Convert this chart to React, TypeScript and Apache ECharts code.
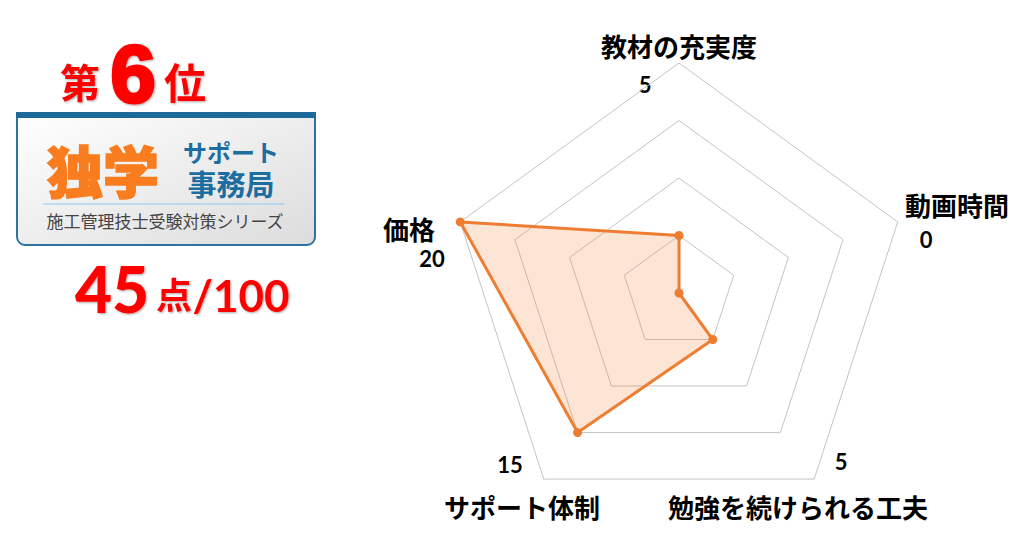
import React, { useEffect, useRef } from "react";
import * as echarts from "echarts";

// ---- data (clockwise from top) ----
const indicatorNames = ["教材の充実度", "動画時間", "勉強を続けられる工夫", "サポート体制", "価格"];
const scores = [5, 0, 5, 15, 20];
const maxScore = 20;
const rank = 6;
const totalScore = 45;
const fullMark = 100;
const logoMain = "独学";
const logoSub1 = "サポート";
const logoSub2 = "事務局";
const logoSeries = "施工管理技士受験対策シリーズ";

// ---- layout (label positions) ----
const nameLayout = [
  [679, 45],
  [957, 204],
  [798, 506],
  [522, 506],
  [409, 228],
];
const valueLayout = [
  [645, 84],
  [926, 239],
  [841, 461],
  [510, 464],
  [432, 258],
];

const JP = '"Noto Sans CJK JP", "Noto Sans", sans-serif';
const NUM = 'Lato, "Liberation Sans", sans-serif';
const RED = "#ff0000";

export default function App() {
  const ref = useRef<HTMLDivElement>(null);
  useEffect(() => {
    if (!ref.current) return;
    const chart = echarts.init(ref.current, null, { renderer: "svg" });

    // ECharts places radar indicators counter-clockwise; reorder so the
    // picture runs clockwise like the reference.
    const n = indicatorNames.length;
    const order = indicatorNames.map((_, i) => (n - i) % n);
    const ecIndicators = order.map((k) => ({ name: indicatorNames[k], min: 0, max: maxScore }));
    const ecValues = order.map((k) => scores[k]);

    const shadow = {
      textShadowColor: "rgba(0,0,0,0.35)",
      textShadowBlur: 2,
      textShadowOffsetX: 1,
      textShadowOffsetY: 1,
    };

    const graphics: any[] = [];
    indicatorNames.forEach((nm, i) => {
      graphics.push({
        type: "text",
        x: nameLayout[i][0],
        y: nameLayout[i][1],
        style: {
          text: nm,
          fill: "#000",
          fontFamily: JP,
          fontWeight: "bold",
          fontSize: 26,
          lineHeight: 26,
          textAlign: "center",
          textVerticalAlign: "middle",
        },
      });
      graphics.push({
        type: "text",
        x: valueLayout[i][0],
        y: valueLayout[i][1],
        style: {
          text: String(scores[i]),
          fill: "#000",
          fontFamily: NUM,
          fontWeight: "bold",
          fontSize: 22,
          lineHeight: 20,
          textAlign: "center",
          textVerticalAlign: "middle",
        },
      });
    });

    // ranking title
    graphics.push(
      {
        type: "text",
        x: 80,
        y: 81,
        style: { text: "第", fill: RED, fontFamily: JP, fontWeight: "bold", fontSize: 40, textAlign: "center", textVerticalAlign: "middle", ...shadow },
      },
      {
        type: "text",
        x: 133,
        y: 73,
        style: { text: String(rank), fill: RED, fontFamily: '"Liberation Sans", Arial, sans-serif', fontWeight: "bold", fontSize: 82, textAlign: "center", textVerticalAlign: "middle", textShadowColor: "rgba(0,0,0,0.35)", textShadowBlur: 2, textShadowOffsetX: 1, textShadowOffsetY: 1, stroke: RED, lineWidth: 3 },
      },
      {
        type: "text",
        x: 185,
        y: 80,
        style: { text: "位", fill: RED, fontFamily: JP, fontWeight: "bold", fontSize: 42, textAlign: "center", textVerticalAlign: "middle", ...shadow },
      }
    );

    // logo box
    graphics.push(
      {
        type: "rect",
        shape: { x: 17, y: 114, width: 298, height: 131, r: [3, 3, 8, 8] },
        style: {
          fill: new echarts.graphic.LinearGradient(0, 0, 1, 1, [
            { offset: 0, color: "#ffffff" },
            { offset: 1, color: "#dcdcdc" },
          ]),
          stroke: "#2c73a0",
          lineWidth: 2,
        },
      },
      {
        type: "rect",
        shape: { x: 16, y: 112, width: 300, height: 6 },
        style: { fill: "#1d6a9a" },
      },
      {
        type: "text",
        x: 103,
        y: 168,
        style: { text: logoMain, fill: "#f97c1e", fontFamily: JP, fontWeight: 900, fontSize: 56, letterSpacing: 6, textAlign: "center", textVerticalAlign: "middle", stroke: "#f97c1e", lineWidth: 1.5 },
      },
      {
        type: "text",
        x: 231,
        y: 167,
        style: {
          text: "{a|" + logoSub1 + "}\n{b|" + logoSub2 + "}",
          fill: "#1b6e9f",
          fontFamily: JP,
          fontWeight: "bold",
          textAlign: "center",
          textVerticalAlign: "middle",
          rich: {
            a: { fontFamily: JP, fontWeight: "bold", fontSize: 24, lineHeight: 31, fill: "#1b6e9f" },
            b: { fontFamily: JP, fontWeight: "bold", fontSize: 29, lineHeight: 31, fill: "#1b6e9f" },
          },
        },
      },
      {
        type: "line",
        shape: { x1: 43, y1: 204, x2: 284, y2: 204 },
        style: { stroke: "#8ec9ea", lineWidth: 1 },
      },
      {
        type: "text",
        x: 165,
        y: 220,
        style: { text: logoSeries, fill: "#444", fontFamily: JP, fontSize: 17, textAlign: "center", textVerticalAlign: "middle" },
      }
    );

    // score
    graphics.push(
      {
        type: "text",
        x: 112,
        y: 288,
        style: { text: String(totalScore), fill: RED, fontFamily: NUM, fontWeight: 900, fontSize: 64, textAlign: "center", textVerticalAlign: "middle", ...shadow },
      },
      {
        type: "text",
        x: 174,
        y: 293,
        style: { text: "点", fill: RED, fontFamily: JP, fontWeight: "bold", fontSize: 36, textAlign: "center", textVerticalAlign: "middle", ...shadow },
      },
      {
        type: "text",
        x: 241,
        y: 295,
        style: { text: "/" + fullMark, fill: RED, fontFamily: NUM, fontWeight: "bold", fontSize: 44, textAlign: "center", textVerticalAlign: "middle", ...shadow },
      }
    );

    chart.setOption({
      animation: false,
      backgroundColor: "#ffffff",
      radar: {
        center: [679, 293],
        radius: 230,
        startAngle: 90,
        shape: "polygon",
        splitNumber: 4,
        indicator: ecIndicators,
        axisName: { show: false },
        axisLine: { show: false },
        axisTick: { show: false },
        axisLabel: { show: false },
        splitArea: { show: false },
        splitLine: { lineStyle: { color: "#c4c4c4", width: 1 } },
      },
      series: [
        {
          type: "radar",
          symbol: "circle",
          symbolSize: 9,
          lineStyle: { color: "#ED7D31", width: 3 },
          itemStyle: { color: "#ED7D31" },
          areaStyle: { color: "rgba(244,130,60,0.3)" },
          data: [{ value: ecValues, name: "評価" }],
        },
      ],
      graphic: graphics,
    });

    return () => chart.dispose();
  }, []);

  return (
    <div
      ref={ref}
      style={{ position: "absolute", left: 0, top: 0, width: 1024, height: 543 }}
    />
  );
}
